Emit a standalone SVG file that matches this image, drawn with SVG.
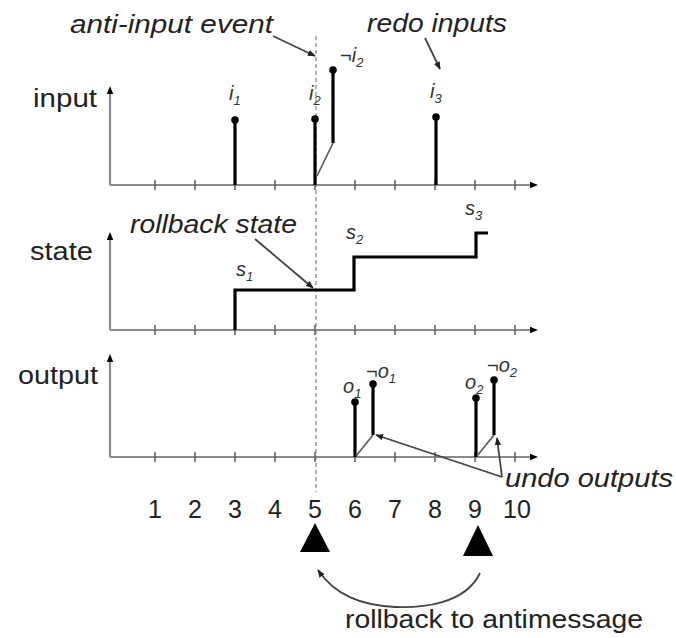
<svg xmlns="http://www.w3.org/2000/svg" width="676" height="638" viewBox="0 0 676 638">
<defs>
<style>
.ax{stroke:#8a8a8a;stroke-width:2.2;fill:none}
.tk{stroke:#666;stroke-width:1.6}
.stem{stroke:#000;stroke-width:3.2;fill:none}
.thin{stroke:#555;stroke-width:1.6;fill:none}
.dash{stroke:#a0a0a0;stroke-width:1.6;stroke-dasharray:4 3;fill:none}
.lbl{font-family:"Liberation Sans",Arial,sans-serif;font-size:26px;fill:#222}
.it{font-family:"Liberation Sans",Arial,sans-serif;font-style:italic;font-size:26px;fill:#222}
.num{font-family:"Liberation Sans",Arial,sans-serif;font-size:25px;fill:#222;text-anchor:middle}
.sub{font-family:"Liberation Sans",Arial,sans-serif;font-style:italic;font-size:20px;fill:#333}
.sm{font-size:13px}
.ptr{stroke:#444;stroke-width:1.8;fill:none}
</style>
<marker id="ah" viewBox="0 0 10 10" refX="9" refY="5" markerWidth="8" markerHeight="8" orient="auto-start-reverse" markerUnits="userSpaceOnUse">
<path d="M0,1 L10,5 L0,9 z" fill="#222"/>
</marker>
<marker id="ax" viewBox="0 0 10 10" refX="5" refY="5" markerWidth="8" markerHeight="8" orient="auto" markerUnits="userSpaceOnUse">
<path d="M0,1 L10,5 L0,9 z" fill="#000"/>
</marker>
<path id="ticks" d="M155,-5V5M195,-5V5M235,-5V5M275,-5V5M315,-5V5M355,-5V5M395,-5V5M435,-5V5M475,-5V5M515,-5V5"/>
</defs>
<rect width="676" height="638" fill="#fff"/>

<line id="rollback-line" class="dash" x1="316" y1="36" x2="316" y2="492"/>

<g id="input-panel">
<text class="lbl" x="33" y="107" textLength="64" lengthAdjust="spacingAndGlyphs">input</text>
<path class="ax" d="M110,185V90" marker-end="url(#ax)"/>
<path class="ax" d="M110,185H534" marker-end="url(#ax)"/>
<use href="#ticks" class="tk" y="185"/>
<line class="stem" x1="235" y1="185" x2="235" y2="120"/><circle cx="235" cy="120" r="3.8"/>
<line class="stem" x1="315" y1="185" x2="315" y2="119"/><circle cx="315" cy="119" r="3.8"/>
<path class="stem" d="M333,143V70" /><path class="thin" d="M317,176L333,143"/><circle cx="333" cy="70" r="3.8"/>
<line class="stem" x1="436" y1="185" x2="436" y2="117"/><circle cx="436" cy="117" r="3.8"/>
<text class="sub" x="229" y="100">i<tspan class="sm" dy="5">1</tspan></text>
<text class="sub" x="309" y="100" fill="#777">i<tspan class="sm" dy="5">2</tspan></text>
<text class="sub" x="340" y="62">¬i<tspan class="sm" dy="5">2</tspan></text>
<text class="sub" x="430" y="98">i<tspan class="sm" dy="5">3</tspan></text>
</g>

<g id="state-panel">
<text class="lbl" x="30" y="260" textLength="63" lengthAdjust="spacingAndGlyphs">state</text>
<path class="ax" d="M110,330V236" marker-end="url(#ax)"/>
<path class="ax" d="M110,330H534" marker-end="url(#ax)"/>
<use href="#ticks" class="tk" y="330"/>
<path class="stem" d="M235,330V290H354V257H476V233H488"/>
<text class="sub" x="236" y="276">s<tspan class="sm" dy="5">1</tspan></text>
<text class="sub" x="346" y="239">s<tspan class="sm" dy="5">2</tspan></text>
<text class="sub" x="465" y="215">s<tspan class="sm" dy="5">3</tspan></text>
</g>

<g id="output-panel">
<text class="lbl" x="18" y="384" textLength="80" lengthAdjust="spacingAndGlyphs">output</text>
<path class="ax" d="M110,457V358" marker-end="url(#ax)"/>
<path class="ax" d="M110,457H534" marker-end="url(#ax)"/>
<use href="#ticks" class="tk" y="457"/>
<line class="stem" x1="355" y1="457" x2="355" y2="402"/><circle cx="355" cy="402" r="3.8"/>
<path class="stem" d="M373,435V384"/><path class="thin" d="M356,456L373,435"/><circle cx="373" cy="384" r="3.8"/>
<line class="stem" x1="476" y1="457" x2="476" y2="398"/><circle cx="476" cy="398" r="3.8"/>
<path class="stem" d="M494,435V380"/><path class="thin" d="M477,456L494,435"/><circle cx="494" cy="380" r="3.8"/>
<text class="sub" x="343" y="393">o<tspan class="sm" dy="5">1</tspan></text>
<text class="sub" x="366" y="378">¬o<tspan class="sm" dy="5">1</tspan></text>
<text class="sub" x="465" y="389">o<tspan class="sm" dy="5">2</tspan></text>
<text class="sub" x="487" y="372">¬o<tspan class="sm" dy="5">2</tspan></text>
</g>

<g id="time-axis-labels">
<text class="num" x="155" y="518">1</text>
<text class="num" x="195" y="518">2</text>
<text class="num" x="235" y="518">3</text>
<text class="num" x="275" y="518">4</text>
<text class="num" x="315" y="518">5</text>
<text class="num" x="355" y="518">6</text>
<text class="num" x="395" y="518">7</text>
<text class="num" x="435" y="518">8</text>
<text class="num" x="475" y="518">9</text>
<text class="num" x="517" y="518">10</text>
</g>

<g id="annotations">
<text class="it" x="70" y="33" textLength="203" lengthAdjust="spacingAndGlyphs">anti-input event</text>
<text class="it" x="367" y="32" textLength="140" lengthAdjust="spacingAndGlyphs">redo inputs</text>
<text class="it" x="130" y="233" textLength="167" lengthAdjust="spacingAndGlyphs">rollback state</text>
<text class="it" x="505" y="487" textLength="168" lengthAdjust="spacingAndGlyphs">undo outputs</text>
<text class="lbl" x="345" y="628" textLength="298" lengthAdjust="spacingAndGlyphs">rollback to antimessage</text>
</g>

<g id="markers">
<path d="M315,523L300,552H330Z" fill="#000"/>
<path d="M478,525L463,556H493Z" fill="#000"/>
</g>

<g id="connectors">
<path class="ptr" d="M273,36L315,56" marker-end="url(#ah)"/>
<path class="ptr" d="M425,38L440,69" marker-end="url(#ah)"/>
<path class="ptr" d="M255,239L313,288" marker-end="url(#ah)"/>
<path class="ptr" d="M502,477L376,435" marker-end="url(#ah)"/>
<path class="ptr" d="M502,477L497,438" marker-end="url(#ah)"/>
<path class="ptr" d="M480,573C465,605 420,608 395,607C360,605 335,595 318,570" marker-end="url(#ah)"/>
</g>
</svg>
